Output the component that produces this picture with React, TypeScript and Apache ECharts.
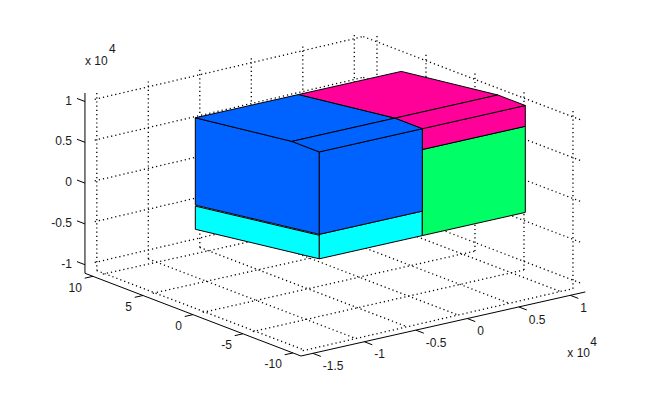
import React, { useEffect, useRef } from "react";
import * as echarts from "echarts";

// Axis limits and ticks (x and z are in units of 10^4)
const xLimits = [-1.615, 1.146];
const yLimits = [-10.8, 10.8];
const zLimits = [-1.105, 1.105];
const xTicks = [-1.5, -1, -0.5, 0, 0.5, 1];
const yTicks = [10, 5, 0, -5, -10];
const zTicks = [1, 0.5, 0, -0.5, -1];
const xTickLabels = ["-1.5", "-1", "-0.5", "0", "0.5", "1"];
const yTickLabels = ["10", "5", "0", "-5", "-10"];
const zTickLabels = ["1", "0.5", "0", "-0.5", "-1"];

// Where the dotted grid's walls and floor stop
const gridLeftX = -1.52;
const gridFrontY = -9.7;
const wallX = 1.123;
const wallYScale = 0.98;
const wallYLimits = [-10.9, 11.4];

// Solid faces: lists of [x, y, z] vertices
const cyanFaces = [
  [[-1, 6.1, -0.52], [-1, -6.3, -0.3], [-1, -6.3, -0.012], [-1, 6.1, -0.236]],
  [[-1, -6.3, -0.3], [0, -6.3, -0.3], [0, -6.3, 0], [-1, -6.3, 0]],
];
const greenFaces = [
  [[0, -6.3, -0.3], [1, -6.3, -0.3], [1, -6.3, 0.755], [0, -6.3, 0.755]],
];
const magentaFaces = [
  [[0, -6.3, 0.755], [1, -6.3, 0.755], [1, -6.3, 1.01], [0, -6.3, 1.01]],
  [[0, 6.1, 0.846], [1, 6.1, 0.846], [1, -3.55, 1.01], [0, -3.55, 1.01]],
  [[0, -3.55, 1.01], [1, -3.55, 1.01], [1, -6.3, 1.01], [0, -6.3, 1.01]],
];
const blueFaces = [
  [[-1, 6.1, -0.224], [-1, -6.3, 0], [-1, -6.3, 1.01], [-1, -3.55, 1.01], [-1, 6.1, 0.846]],
  [[-1, -6.3, 0], [0, -6.3, 0], [0, -6.3, 1.01], [-1, -6.3, 1.01]],
  [[-1, 6.1, 0.846], [0, 6.1, 0.846], [0, -3.55, 1.01], [-1, -3.55, 1.01]],
  [[-1, -3.55, 1.01], [0, -3.55, 1.01], [0, -6.3, 1.01], [-1, -6.3, 1.01]],
];

const FONT = '"Liberation Sans", Arial, sans-serif';
const W = 645;
const H = 400;

// Oblique projection of MATLAB's 3-D view on to the flat helper axes
const project = (x: number, y: number, z: number) => [
  359.3 + 103 * x - 10 * y,
  187 - 23.2 * x - 3.83 * y - 81.6 * z,
];

type P3 = number[];
const [x0, x1] = xLimits;
const [y0, y1] = yLimits;
const [z0, z1] = zLimits;
const wallY = (t: number) => t * wallYScale;
const [wallY0, wallY1] = wallYLimits.map(wallY);

const gridSegments: P3[][] = [
  ...xTicks.flatMap((t) => [
    [[t, gridFrontY, z0], [t, y1, z0]],
    [[t, y1, z0], [t, y1, z1]],
  ]),
  ...yTicks.flatMap((t) => [
    [[gridLeftX, t, z0], [wallX, wallY(t), z0]],
    [[wallX, wallY(t), z0], [wallX, wallY(t), z1]],
  ]),
  ...zTicks.flatMap((t) => [
    [[gridLeftX, y1, t], [wallX, wallY1, t]],
    [[wallX, wallY1, t], [wallX, wallY0, t]],
  ]),
];

const TICK = 0.08;
const axisSegments: P3[][] = [
  [[x0, y1, z0], [x0, y1, z1]],
  [[x0, y1, z0], [x0, y0, z0]],
  [[x0, y0, z0], [x1, y0, z0]],
  ...zTicks.map((t) => [[x0, y1, t], [x0, y1 + 0.8, t]]),
  ...yTicks.map((t) => [[x0, t, z0], [x0 - TICK, t, z0]]),
  ...xTicks.map((t) => [[t, y0, z0], [t, y0 - 0.8, z0]]),
];

type Label = { text: string; at: P3; dx: number; dy: number; align: string };
const labels: Label[] = [
  ...xTicks.map((t, i) => ({ text: xTickLabels[i], at: [t, y0, z0], dx: 10, dy: 12.7, align: "left" })),
  ...yTicks.map((t, i) => ({ text: yTickLabels[i], at: [x0, t, z0], dx: -11, dy: 11.5, align: "right" })),
  ...zTicks.map((t, i) => ({ text: zTickLabels[i], at: [x0, y1, t], dx: -13, dy: -1, align: "right" })),
  { text: "x 10", at: [x0, y1, z1], dx: 0, dy: -32, align: "left" },
  { text: "4", at: [x0, y1, z1], dx: 24, dy: -44, align: "left" },
  { text: "x 10", at: [x1, y0, z0], dx: -18, dy: 61, align: "left" },
  { text: "4", at: [x1, y0, z0], dx: 5, dy: 50, align: "left" },
];

const helper = (renderItem: any, count: number, z: number) => ({
  type: "custom",
  coordinateSystem: "cartesian2d",
  silent: true,
  clip: false,
  z,
  data: Array.from({ length: count }, (_, i) => [i, 0]),
  encode: { x: 0, y: 1 },
  renderItem,
});

const px = (api: any, p: P3) => {
  const [a, b] = project(p[0], p[1], p[2]);
  return api.coord([a, b]);
};

const lineSeries = (segments: P3[][], style: any, z: number) =>
  helper((params: any, api: any) => {
    const [a, b] = segments[params.dataIndex].map((p) => px(api, p));
    return {
      type: "line",
      shape: { x1: a[0], y1: a[1], x2: b[0], y2: b[1] },
      style: { fill: null, ...style },
    };
  }, segments.length, z);

const faceSeries = (faces: P3[][], color: string, z: number) =>
  helper((params: any, api: any) => ({
    type: "polygon",
    shape: { points: faces[params.dataIndex].map((p) => px(api, p)) },
    style: { fill: color, stroke: "#000", lineWidth: 1 },
  }), faces.length, z);

const labelSeries = helper((params: any, api: any) => {
  const l = labels[params.dataIndex];
  const [a, b] = px(api, l.at);
  return {
    type: "text",
    x: a + l.dx,
    y: b + l.dy,
    style: {
      text: l.text,
      fill: "#1a1a1a",
      font: `12px ${FONT}`,
      textAlign: l.align,
      textVerticalAlign: "middle",
    },
  };
}, labels.length, 10);

export default function App() {
  const ref = useRef<HTMLDivElement>(null);
  useEffect(() => {
    document.body.style.margin = "0";
    const chart = echarts.init(ref.current!, null, { renderer: "svg" });
    chart.setOption({
      animation: false,
      backgroundColor: "#fff",
      grid: { left: 0, right: 0, top: 0, bottom: 0 },
      xAxis: { type: "value", min: 0, max: W, show: false },
      yAxis: { type: "value", min: 0, max: H, inverse: true, show: false },
      series: [
        lineSeries(gridSegments, { stroke: "#000", lineWidth: 1.3, lineDash: [1.2, 3] }, 1),
        lineSeries(axisSegments, { stroke: "#000", lineWidth: 1 }, 2),
        faceSeries(cyanFaces, "#00ffff", 3),
        faceSeries(greenFaces, "#00ff66", 4),
        faceSeries(magentaFaces, "#ff0099", 5),
        faceSeries(blueFaces, "#0062ff", 6),
        labelSeries,
      ],
    });
    return () => chart.dispose();
  }, []);
  return <div ref={ref} style={{ width: W, height: H }} />;
}
